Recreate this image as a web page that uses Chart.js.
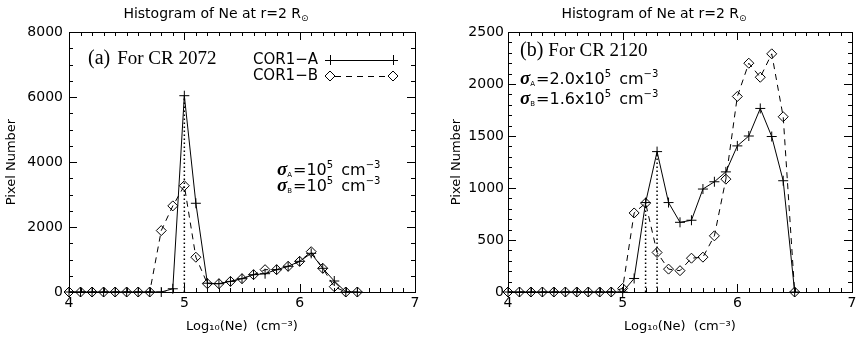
<!DOCTYPE html>
<html>
<head>
<meta charset="utf-8">
<script src="https://cdn.jsdelivr.net/npm/chart.js@4.4.1/dist/chart.umd.min.js"></script>
<style>
  body { margin: 0; background: #fff; width: 858px; height: 339px; overflow: hidden; position: relative; }
  .panel { position: absolute; top: 0; width: 429px; height: 339px; }
</style>
</head>
<body>
<div class="panel" style="left:0"><canvas id="chartCR2072" width="429" height="339"></canvas></div>
<div class="panel" style="left:429px"><canvas id="chartCR2120" width="429" height="339"></canvas></div>
<script>
// log10(Ne) bins
const logNe = [4.0, 4.1, 4.2, 4.3, 4.4, 4.5, 4.6, 4.7, 4.8, 4.9,
               5.0, 5.1, 5.2, 5.3, 5.4, 5.5, 5.6, 5.7, 5.8, 5.9,
               6.0, 6.1, 6.2, 6.3, 6.4, 6.5];

// (a) CR 2072
const cr2072CorA = [0, 0, 0, 0, 0, 0, 0, 0, 0, 100,
                    6040, 2730, 270, 255, 326, 410, 533, 563, 687, 790,
                    944, 1190, 729, 338, 0, 0];
const cr2072CorB = [0, 0, 0, 0, 0, 0, 0, 0, 1890, 2650,
                    3270, 1070, 255, 255, 326, 410, 533, 687, 687, 790,
                    944, 1240, 729, 163, 0, 0];

// (b) CR 2120
const cr2120CorA = [0, 0, 0, 0, 0, 0, 0, 0, 0, 0,
                    0, 130, 860, 1350, 860, 670, 690, 990, 1060, 1155,
                    1405, 1500, 1765, 1495, 1070, 0];
const cr2120CorB = [0, 0, 0, 0, 0, 0, 0, 0, 0, 0,
                    35, 760, 855, 380, 220, 205, 325, 335, 540, 1085,
                    1880, 2200, 2065, 2290, 1685, 0];

// dotted lines at the low-density peaks
const peakX2072 = [5.0];
const peakX2120 = [5.2, 5.3];

const xTicks = [4, 5, 6, 7];
const yTicks2072 = [0, 2000, 4000, 6000, 8000];
const yTicks2120 = [0, 500, 1000, 1500, 2000, 2500];

const SANS = '"DejaVu Sans", sans-serif';
const SERIF = '"Liberation Serif", "Times New Roman", serif';

function pts(ys) {
    return logNe.map((x, i) => ({ x: x, y: ys[i] }));
}

function peakLines(xs, a, b) {
    return xs.map(px => {
        const i = logNe.findIndex(v => Math.abs(v - px) < 1e-6);
        return {
            type: 'line',
            data: [{ x: px, y: 0 }, { x: px, y: Math.max(a[i], b[i]) }],
            borderColor: '#000',
            borderWidth: 1.5,
            borderDash: [1.5, 2.5],
            pointRadius: 0,
            order: 3
        };
    });
}

function drawRich(ctx, x, y, parts) {
    ctx.textAlign = 'left';
    ctx.textBaseline = 'alphabetic';
    parts.forEach(p => {
        ctx.font = p.f;
        ctx.fillText(p.t, x, y + (p.dy || 0));
        x += ctx.measureText(p.t).width + (p.sp || 0);
    });
}

function sigmaLine(ctx, x, y, sub, value) {
    drawRich(ctx, x, y, [
        { t: 'σ', f: 'italic bold 19px ' + SERIF },
        { t: sub, f: '7px ' + SANS, dy: 2, sp: 1 },
        { t: '=' + value, f: '16px ' + SANS },
        { t: '5', f: '10px ' + SANS, dy: -7, sp: 3 },
        { t: ' cm', f: '16px ' + SANS },
        { t: '−3', f: '10px ' + SANS, dy: -7 }
    ]);
}

// frame with inward ticks on all four sides, plus title and annotations
const framePlugin = {
    id: 'frame',
    afterDraw(chart, args, opts) {
        const ctx = chart.ctx;
        const a = chart.chartArea;
        const xs = chart.scales.x, ys = chart.scales.y;
        ctx.save();
        ctx.strokeStyle = '#000';
        ctx.fillStyle = '#000';
        ctx.lineWidth = 1;
        ctx.strokeRect(Math.round(a.left) + 0.5, Math.round(a.top) + 0.5,
                       Math.round(a.right - a.left), Math.round(a.bottom - a.top));
        ctx.beginPath();
        const nx = Math.round((xs.max - xs.min) / opts.xMinor);
        for (let k = 0; k <= nx; k++) {
            const v = xs.min + k * opts.xMinor;
            const px = Math.round(xs.getPixelForValue(v)) + 0.5;
            const len = (k % Math.round(1 / opts.xMinor) === 0) ? 8 : 4;
            ctx.moveTo(px, a.bottom); ctx.lineTo(px, a.bottom - len);
            ctx.moveTo(px, a.top); ctx.lineTo(px, a.top + len);
        }
        const ny = Math.round((ys.max - ys.min) / opts.yMinor);
        const per = Math.round(opts.yMajor / opts.yMinor);
        for (let k = 0; k <= ny; k++) {
            const v = ys.min + k * opts.yMinor;
            const py = Math.round(ys.getPixelForValue(v)) + 0.5;
            const len = (k % per === 0) ? 8 : 4;
            ctx.moveTo(a.left, py); ctx.lineTo(a.left + len, py);
            ctx.moveTo(a.right, py); ctx.lineTo(a.right - len, py);
        }
        ctx.stroke();

        // title
        ctx.font = '14px ' + SANS;
        const t1 = 'Histogram of Ne at r=2 R';
        const w1 = ctx.measureText(t1).width;
        ctx.font = '9px ' + SANS;
        const w2 = ctx.measureText('⊙').width;
        drawRich(ctx, opts.titleX - (w1 + w2) / 2, 18, [
            { t: t1, f: '14px ' + SANS },
            { t: '⊙', f: '9px ' + SANS, dy: 3 }
        ]);

        // panel label
        drawRich(ctx, opts.label.x, opts.label.y, [
            { t: opts.label.tag, f: '20px ' + SERIF, sp: opts.label.gap },
            { t: opts.label.text, f: '19px ' + SERIF }
        ]);

        // sigma notes
        opts.sigmas.forEach(s => sigmaLine(ctx, s.x, s.y, s.sub, s.value));

        // legend
        if (opts.legend) {
            const L = opts.legend;
            ctx.font = '15px ' + SANS;
            ctx.textAlign = 'right';
            ctx.textBaseline = 'middle';
            ctx.fillText('COR1−A', L.x, L.y1);
            ctx.fillText('COR1−B', L.x, L.y2);
            ctx.beginPath();
            ctx.moveTo(L.x0, L.y1 + 0.5); ctx.lineTo(L.x1, L.y1 + 0.5);
            [L.x0, L.x1].forEach(px => {
                ctx.moveTo(px - 5, L.y1 + 0.5); ctx.lineTo(px + 5, L.y1 + 0.5);
                ctx.moveTo(px + 0.5, L.y1 - 5); ctx.lineTo(px + 0.5, L.y1 + 5);
            });
            ctx.stroke();
            ctx.beginPath();
            [L.x0, L.x1].forEach(px => {
                ctx.moveTo(px, L.y2 - 5); ctx.lineTo(px + 5, L.y2);
                ctx.lineTo(px, L.y2 + 5); ctx.lineTo(px - 5, L.y2); ctx.closePath();
            });
            ctx.stroke();
            ctx.setLineDash([6, 5]);
            ctx.beginPath();
            ctx.moveTo(L.x0 + 5, L.y2 + 0.5); ctx.lineTo(L.x1 - 5, L.y2 + 0.5);
            ctx.stroke();
        }
        ctx.restore();
    }
};

function makeChart(id, corA, corB, peaks, yTicks, cfg) {
    const yMax = yTicks[yTicks.length - 1];
    new Chart(document.getElementById(id), {
        type: 'line',
        data: {
            datasets: [{
                label: 'COR1-A',
                data: pts(corA),
                borderColor: '#000',
                borderWidth: 1,
                pointStyle: 'cross',
                pointRadius: 5,
                pointBorderWidth: 1,
                pointBorderColor: '#000',
                pointBackgroundColor: 'rgba(0,0,0,0)',
                tension: 0,
                clip: 8,
                order: 1
            }, {
                label: 'COR1-B',
                data: pts(corB),
                borderColor: '#000',
                borderWidth: 1,
                borderDash: [6, 5],
                pointStyle: 'rectRot',
                pointRadius: 5,
                pointBorderWidth: 1,
                pointBorderColor: '#000',
                pointBackgroundColor: 'rgba(0,0,0,0)',
                tension: 0,
                clip: 8,
                order: 2
            }].concat(peakLines(peaks, corA, corB))
        },
        options: {
            responsive: false,
            animation: false,
            devicePixelRatio: 1,
            layout: { padding: { top: 32, right: cfg.padRight, left: 0, bottom: 0 } },
            plugins: {
                legend: { display: false },
                tooltip: { enabled: false },
                frame: cfg.frame
            },
            scales: {
                x: {
                    type: 'linear',
                    min: xTicks[0],
                    max: xTicks[xTicks.length - 1],
                    afterBuildTicks: s => { s.ticks = xTicks.map(v => ({ value: v })); },
                    afterFit: s => { s.height = 47; s.paddingLeft = 0; s.paddingRight = 0; },
                    grid: { display: false, drawTicks: false },
                    border: { display: false },
                    ticks: {
                        color: '#000', padding: 3, maxRotation: 0,
                        font: { family: SANS, size: 14 },
                        callback: v => String(v)
                    },
                    title: {
                        display: true,
                        text: 'Log₁₀(Ne)  (cm⁻³)',
                        color: '#000',
                        padding: { top: 0, bottom: 5 },
                        font: { family: SANS, size: 13 }
                    }
                },
                y: {
                    min: 0,
                    max: yMax,
                    afterBuildTicks: s => { s.ticks = yTicks.map(v => ({ value: v })); },
                    afterFit: s => { s.width = cfg.yWidth; },
                    grid: { display: false, drawTicks: false },
                    border: { display: false },
                    ticks: {
                        color: '#000', padding: cfg.tickPad,
                        font: { family: SANS, size: 14 },
                        callback: v => String(v)
                    },
                    title: {
                        display: true,
                        text: 'Pixel Number',
                        color: '#000',
                        padding: { top: cfg.yTitlePad, bottom: 0 },
                        font: { family: SANS, size: 13 }
                    }
                }
            }
        },
        plugins: [framePlugin]
    });
}

makeChart('chartCR2072', cr2072CorA, cr2072CorB, peakX2072, yTicks2072, {
    padRight: 14, yWidth: 69, tickPad: 6, yTitlePad: 4,
    frame: {
        xMinor: 0.1, yMinor: 500, yMajor: 2000, titleX: 216,
        label: { x: 88, y: 64, tag: '(a)', gap: 7, text: 'For CR 2072' },
        sigmas: [
            { x: 277, y: 175, sub: 'A', value: '10' },
            { x: 277, y: 191, sub: 'B', value: '10' }
        ],
        legend: { x: 318, y1: 60, y2: 76, x0: 330, x1: 393 }
    }
});

makeChart('chartCR2120', cr2120CorA, cr2120CorB, peakX2120, yTicks2120, {
    padRight: 1, yWidth: 79, tickPad: 4, yTitlePad: 20,
    frame: {
        xMinor: 0.1, yMinor: 100, yMajor: 500, titleX: 225,
        label: { x: 91, y: 56, tag: '(b)', gap: 5, text: 'For CR 2120' },
        sigmas: [
            { x: 91, y: 84, sub: 'A', value: '2.0x10' },
            { x: 91, y: 104, sub: 'B', value: '1.6x10' }
        ],
        legend: null
    }
});
</script>
</body>
</html>
